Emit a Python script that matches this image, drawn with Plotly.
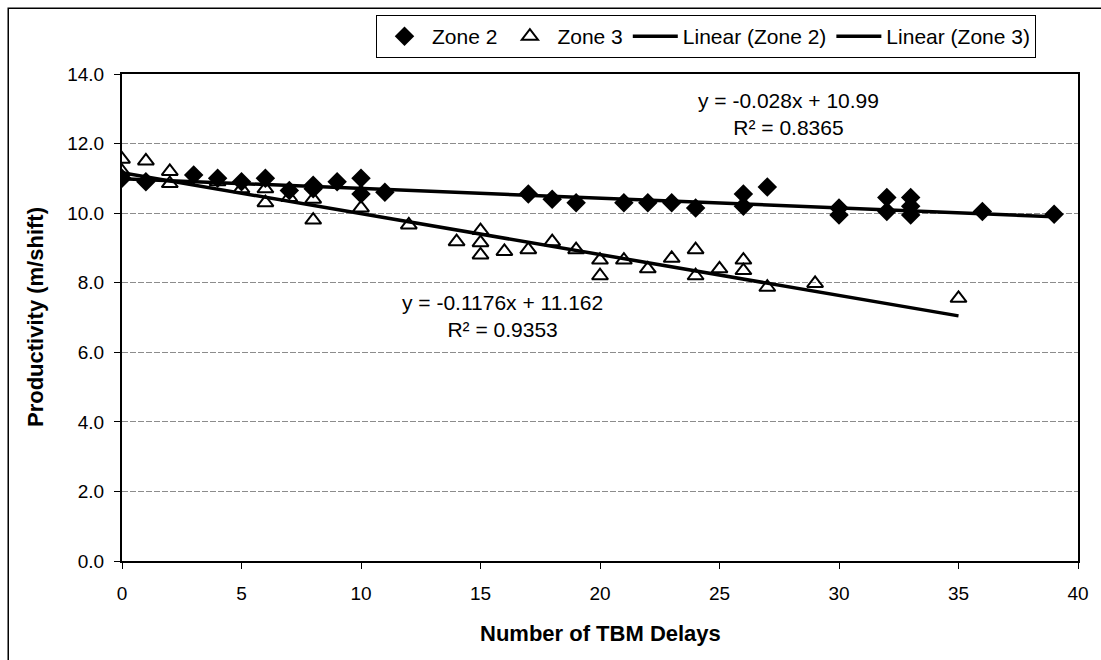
import plotly.graph_objects as go

# Zone 2 observations: number of TBM delays vs productivity (m/shift)
zone2_delays = [0, 1, 3, 4, 5, 6, 7, 8, 8, 9, 10, 10, 11, 17, 18, 19, 21, 22, 23, 24,
                26, 26, 27, 30, 30, 32, 32, 33, 33, 33, 36, 39]
zone2_prod = [11.0, 10.9, 11.1, 11.0, 10.9, 11.0, 10.65, 10.8, 10.7, 10.9, 11.0, 10.55, 10.6,
              10.55, 10.4, 10.3, 10.3, 10.3, 10.3, 10.15, 10.55, 10.2, 10.75, 10.15, 9.95,
              10.45, 10.05, 10.45, 10.2, 9.95, 10.05, 9.97]

# Zone 3 observations
zone3_delays = [0, 0, 1, 2, 2, 4, 5, 6, 6, 7, 8, 8, 10, 12, 14, 15, 15, 15, 16, 17, 18, 19,
                20, 20, 21, 22, 23, 24, 24, 25, 26, 26, 27, 29, 35]
zone3_prod = [11.55, 11.2, 11.5, 11.2, 10.85, 10.9, 10.7, 10.7, 10.3, 10.45, 10.4, 9.8, 10.15,
              9.66, 9.18, 9.5, 9.15, 8.8, 8.9, 8.95, 9.18, 8.95, 8.65, 8.2, 8.65, 8.4, 8.7,
              8.95, 8.2, 8.4, 8.65, 8.35, 7.87, 7.98, 7.55]

# Linear trendline coefficients (slope, intercept, R²)
zone2_fit = (-0.028, 10.99, 0.8365)
zone3_fit = (-0.1176, 11.162, 0.9353)

x_ticks = [0, 5, 10, 15, 20, 25, 30, 35, 40]
y_ticks = [0, 2, 4, 6, 8, 10, 12, 14]

FONT = "Arial, Liberation Sans, sans-serif"


def trend(delays, fit):
    xs = [0, max(delays)]
    return xs, [fit[0] * x + fit[1] for x in xs]


fig = go.Figure()

fig.add_trace(go.Scatter(
    x=zone2_delays, y=zone2_prod, mode="markers", name="Zone 2",
    marker=dict(symbol="diamond", size=15, color="black"),
))
fig.add_trace(go.Scatter(
    x=zone3_delays, y=zone3_prod, mode="markers", name="Zone 3",
    marker=dict(symbol="triangle-up-open", size=14, color="black", line=dict(width=2)),
))
tx2, ty2 = trend(zone2_delays, zone2_fit)
fig.add_trace(go.Scatter(x=tx2, y=ty2, mode="lines", name="Linear (Zone 2)",
                         line=dict(color="black", width=3.5)))
tx3, ty3 = trend(zone3_delays, zone3_fit)
fig.add_trace(go.Scatter(x=tx3, y=ty3, mode="lines", name="Linear (Zone 3)",
                         line=dict(color="black", width=3.5)))


def eq_text(fit):
    return f"y = {fit[0]:g}x + {fit[1]:g}<br>R² = {fit[2]:g}"


annotations = [
    dict(x=15.9, y=7.05, xref="x", yref="y", text=eq_text(zone3_fit), showarrow=False,
         font=dict(size=21, family=FONT, color="black"), align="center"),
    dict(x=27.9, y=12.85, xref="x", yref="y", text=eq_text(zone2_fit), showarrow=False,
         font=dict(size=21, family=FONT, color="black"), align="center"),
    dict(x=0.5, y=-0.148, xref="paper", yref="paper", text="<b>Number of TBM Delays</b>",
         showarrow=False, font=dict(size=22, family=FONT, color="black"),
         xanchor="center", yanchor="middle"),
    dict(x=-0.091, y=0.501, xref="paper", yref="paper", text="<b>Productivity (m/shift)</b>",
         showarrow=False, textangle=-90, font=dict(size=22, family=FONT, color="black"),
         xanchor="center", yanchor="middle"),
]

fig.update_layout(
    width=1101, height=660,
    margin=dict(l=122, r=23, t=74, b=99),
    paper_bgcolor="white", plot_bgcolor="white",
    font=dict(family=FONT, size=19, color="black"),
    showlegend=True,
    legend=dict(orientation="h", x=0.2657, y=1.121, xanchor="left", yanchor="top",
                bordercolor="black", borderwidth=1, bgcolor="white",
                font=dict(size=21, family=FONT), itemwidth=45),
    annotations=annotations,
    shapes=[dict(type="rect", xref="paper", yref="paper", x0=-0.119, x1=1.06,
                 y0=-0.23, y1=1.135, line=dict(color="black", width=1.5), layer="below")],
)

fig.update_xaxes(range=[0, 40], tickvals=x_ticks, showgrid=False, zeroline=False,
                 showline=True, linecolor="black", linewidth=2, mirror=True,
                 ticks="outside", ticklen=6, tickcolor="black",
                 tickfont=dict(size=19, family=FONT), ticklabelstandoff=8)
fig.update_yaxes(range=[0, 14], tickvals=y_ticks, tickformat=".1f", showgrid=True,
                 gridcolor="#8c8c8c", gridwidth=1, griddash="6px,2px", zeroline=False,
                 showline=True, linecolor="black", linewidth=2, mirror=True,
                 ticks="outside", ticklen=6, tickcolor="black",
                 tickfont=dict(size=19, family=FONT), ticklabelstandoff=6)

fig.write_html("out.html")
